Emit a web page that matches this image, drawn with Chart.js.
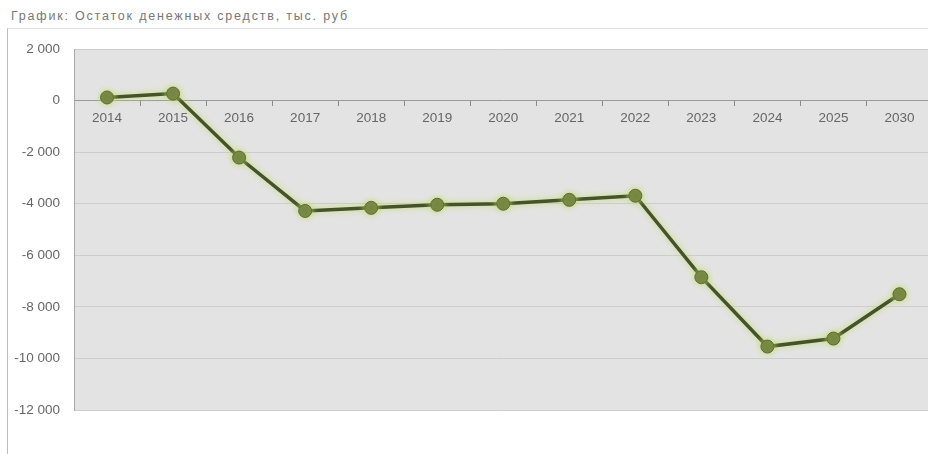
<!DOCTYPE html>
<html>
<head>
<meta charset="utf-8">
<script src="https://cdn.jsdelivr.net/npm/chart.js@4"></script>
<style>
  html, body { margin: 0; padding: 0; background: #fff; overflow: hidden; }
  body { width: 928px; height: 454px; position: relative; }
  .title {
    position: absolute; left: 11px; top: 9px;
    font: 12.5px "Liberation Sans", Arial, sans-serif; color: #777;
    letter-spacing: 1.8px;
  }
  .frame {
    position: absolute; left: 7px; top: 28px; width: 940px; height: 440px;
    border-left: 1px solid #bdbdbd; border-top: 1px solid #e2e2e2;
  }
  .wrap { position: absolute; left: 0; top: 0; width: 940px; height: 454px; }
</style>
</head>
<body>
<div class="title">График: Остаток денежных средств, тыс. руб</div>
<div class="frame"></div>
<div class="wrap"><canvas id="chart" width="940" height="454"></canvas></div>
<script>
const years = ['2014', '2015', '2016', '2017', '2018', '2019', '2020', '2021', '2022', '2023', '2024', '2025', '2030'];
const balance = [120, 270, -2210, -4280, -4160, -4040, -4000, -3850, -3690, -6850, -9540, -9230, -7510];
const yTicks = [2000, 0, -2000, -4000, -6000, -8000, -10000, -12000];

const fmt = v => {
  const s = Math.abs(v).toString().replace(/\B(?=(\d{3})+(?!\d))/g, ' ');
  return (v < 0 ? '-' : '') + s;
};

const plotBg = {
  id: 'plotBg',
  beforeDraw(chart) {
    const { ctx, chartArea: a } = chart;
    ctx.save();
    ctx.fillStyle = '#e3e3e3';
    ctx.fillRect(a.left, a.top, a.right - a.left, a.bottom - a.top);
    ctx.restore();
  }
};

const glow = {
  id: 'glow',
  beforeDatasetDraw(chart) {
    const ctx = chart.ctx;
    ctx.save();
    ctx.shadowColor = 'rgba(195, 220, 110, 1)';
    ctx.shadowBlur = 6;
  },
  afterDatasetDraw(chart) {
    chart.ctx.restore();
  }
};

new Chart(document.getElementById('chart'), {
  type: 'line',
  data: {
    labels: years,
    datasets: [{
      data: balance,
      borderColor: '#44532a',
      borderWidth: 3.5,
      pointRadius: 6.5,
      pointBackgroundColor: '#6e7f3e',
      pointBorderColor: '#5d6d33',
      pointBorderWidth: 1,
      tension: 0
    }]
  },
  options: {
    responsive: false,
    animation: false,
    devicePixelRatio: 1,
    layout: { padding: { top: 49, bottom: 44, left: 0, right: 3 } },
    plugins: { legend: { display: false }, tooltip: { enabled: false } },
    scales: {
      x: {
        position: { y: 0 },
        offset: true,
        grid: { drawOnChartArea: false, drawTicks: true, tickLength: 5, offset: true, color: '#8a8a8a' },
        border: { color: '#9a9a9a', width: 1 },
        ticks: { color: '#666', padding: 5, font: { family: 'Liberation Sans', size: 13.5 }, maxRotation: 0 }
      },
      y: {
        min: -12000,
        max: 2000,
        afterFit: s => { s.width = 74; },
        afterBuildTicks: s => { s.ticks = yTicks.map(v => ({ value: v })); },
        grid: { color: '#cdcdcd', drawTicks: false },
        border: { color: '#a8a8a8', width: 1 },
        ticks: { color: '#666', padding: 14, font: { family: 'Liberation Sans', size: 13.5 }, callback: v => fmt(v) }
      }
    }
  },
  plugins: [plotBg, glow]
});
</script>
</body>
</html>
